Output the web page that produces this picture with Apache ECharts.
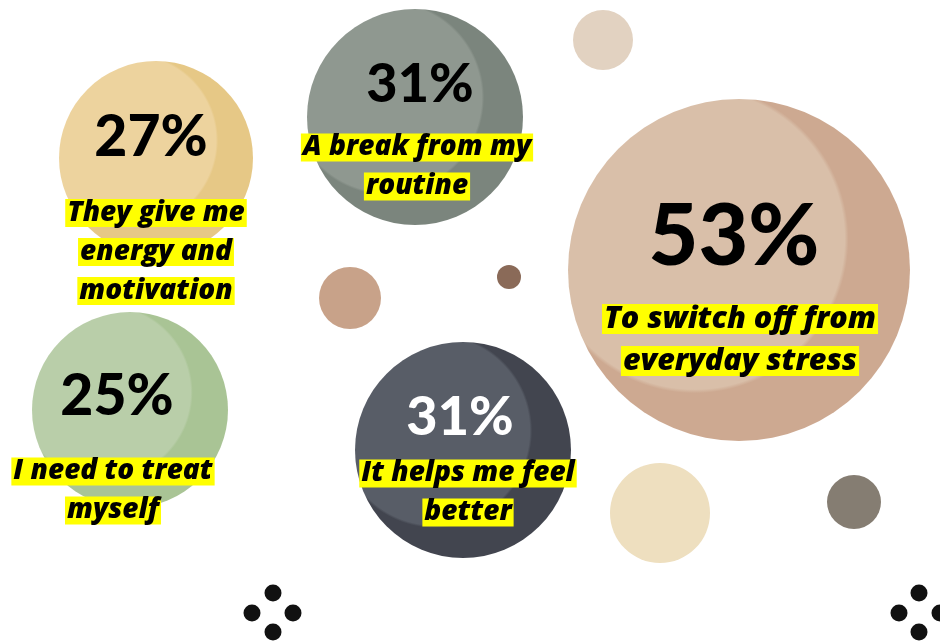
<!DOCTYPE html>
<html>
<head>
<meta charset="utf-8">
<script src="https://cdn.jsdelivr.net/npm/echarts@6/dist/echarts.min.js"></script>
<style>html,body{margin:0;padding:0;background:#fff}#c{width:940px;height:642px}</style>
</head>
<body>
<div id="c"></div>
<script>
// ---- data ----
const categories = [
  'To switch off from\neveryday stress',
  'A break from my\nroutine',
  'They give me\nenergy and\nmotivation',
  'I need to treat\nmyself',
  'It helps me feel\nbetter'
];
const shares = [53, 31, 27, 25, 31];

// ---- layout (positions / sizes / styles) ----
const centers = [[739, 270], [415, 117], [156, 158], [130, 410], [463, 450]];
const radii = [171, 108, 97, 98, 108];
const lightColors = ['#D9BFA9', '#8F9890', '#EDD39E', '#B9CEA9', '#585D67'];
const darkColors = ['#CDA991', '#7B857D', '#E6C886', '#A9C495', '#42454F'];
const pctColors = ['#000', '#000', '#000', '#000', '#fff'];
const pctSizes = [86, 54, 57, 57, 54];
const pctOffsets = [[-5, -33], [5, -32], [-5, -20], [-13, -13], [-3, -32]];
const descOffsets = [[1, 70], [2, 50], [0, 94], [-17, 81], [5, 43]];
const descSizes = [30.5, 28, 28, 28, 28];
const descLineHeights = [42, 39, 39, 39, 39];

const decorCenters = [[603, 40], [350, 298], [509, 277], [660, 513], [854, 502]];
const decorRadii = [30, 31, 12, 50, 27];
const decorColors = ['#E2D2C1', '#C8A289', '#8A6A58', '#EEDFBF', '#857D72'];
const dotCenters = [[273, 593], [252, 613], [293, 613], [273, 632], [919, 593], [899, 613], [940, 613], [919, 632]];

const chart = echarts.init(document.getElementById('c'), null, {renderer: 'canvas'});

function grad(i) {
  return new echarts.graphic.RadialGradient(0.37, 0.41, 0.45, [
    {offset: 0, color: lightColors[i]},
    {offset: 0.975, color: lightColors[i]},
    {offset: 1, color: darkColors[i]}
  ]);
}

const bubbleData = shares.map((v, i) => ({
  value: [centers[i][0], centers[i][1], v],
  symbolSize: radii[i] * 2,
  itemStyle: {color: grad(i), opacity: 1},
  label: {
    show: true, position: 'inside', offset: pctOffsets[i],
    formatter: p => p.value[2] + '%',
    color: pctColors[i], opacity: 1, fontSize: pctSizes[i], fontWeight: 900, fontFamily: 'Lato'
  }
}));

const descData = categories.map((c, i) => ({
  value: [centers[i][0], centers[i][1]],
  name: c,
  label: {
    show: true, position: 'inside', offset: descOffsets[i], opacity: 1,
    formatter: p => p.name.split('\n').map(s => '{hl|' + s + '}').join('\n'),
    rich: {
      hl: {
        backgroundColor: '#FFFF00', color: '#000', fontSize: descSizes[i], lineHeight: descLineHeights[i],
        fontWeight: 800, fontStyle: 'italic', fontFamily: 'Open Sans', padding: [0, 2]
      }
    }
  }
}));

chart.setOption({
  animation: false,
  backgroundColor: '#fff',
  grid: {left: 0, right: 0, top: 0, bottom: 0},
  xAxis: {type: 'value', min: 0, max: 940, show: false},
  yAxis: {type: 'value', min: 0, max: 642, inverse: true, show: false},
  series: [
    {
      type: 'scatter', silent: true, z: 1,
      itemStyle: {opacity: 1},
      data: decorCenters.map((c, i) => ({value: c, symbolSize: decorRadii[i] * 2, itemStyle: {color: decorColors[i], opacity: 1}}))
    },
    {
      type: 'scatter', silent: true, z: 1, symbolSize: 17,
      itemStyle: {color: '#111', opacity: 1},
      data: dotCenters
    },
    {type: 'scatter', silent: true, z: 2, itemStyle: {opacity: 1}, data: bubbleData},
    {
      type: 'scatter', silent: true, z: 3, symbolSize: 1,
      itemStyle: {color: 'rgba(0,0,0,0)'},
      data: descData
    }
  ]
});
</script>
</body>
</html>
